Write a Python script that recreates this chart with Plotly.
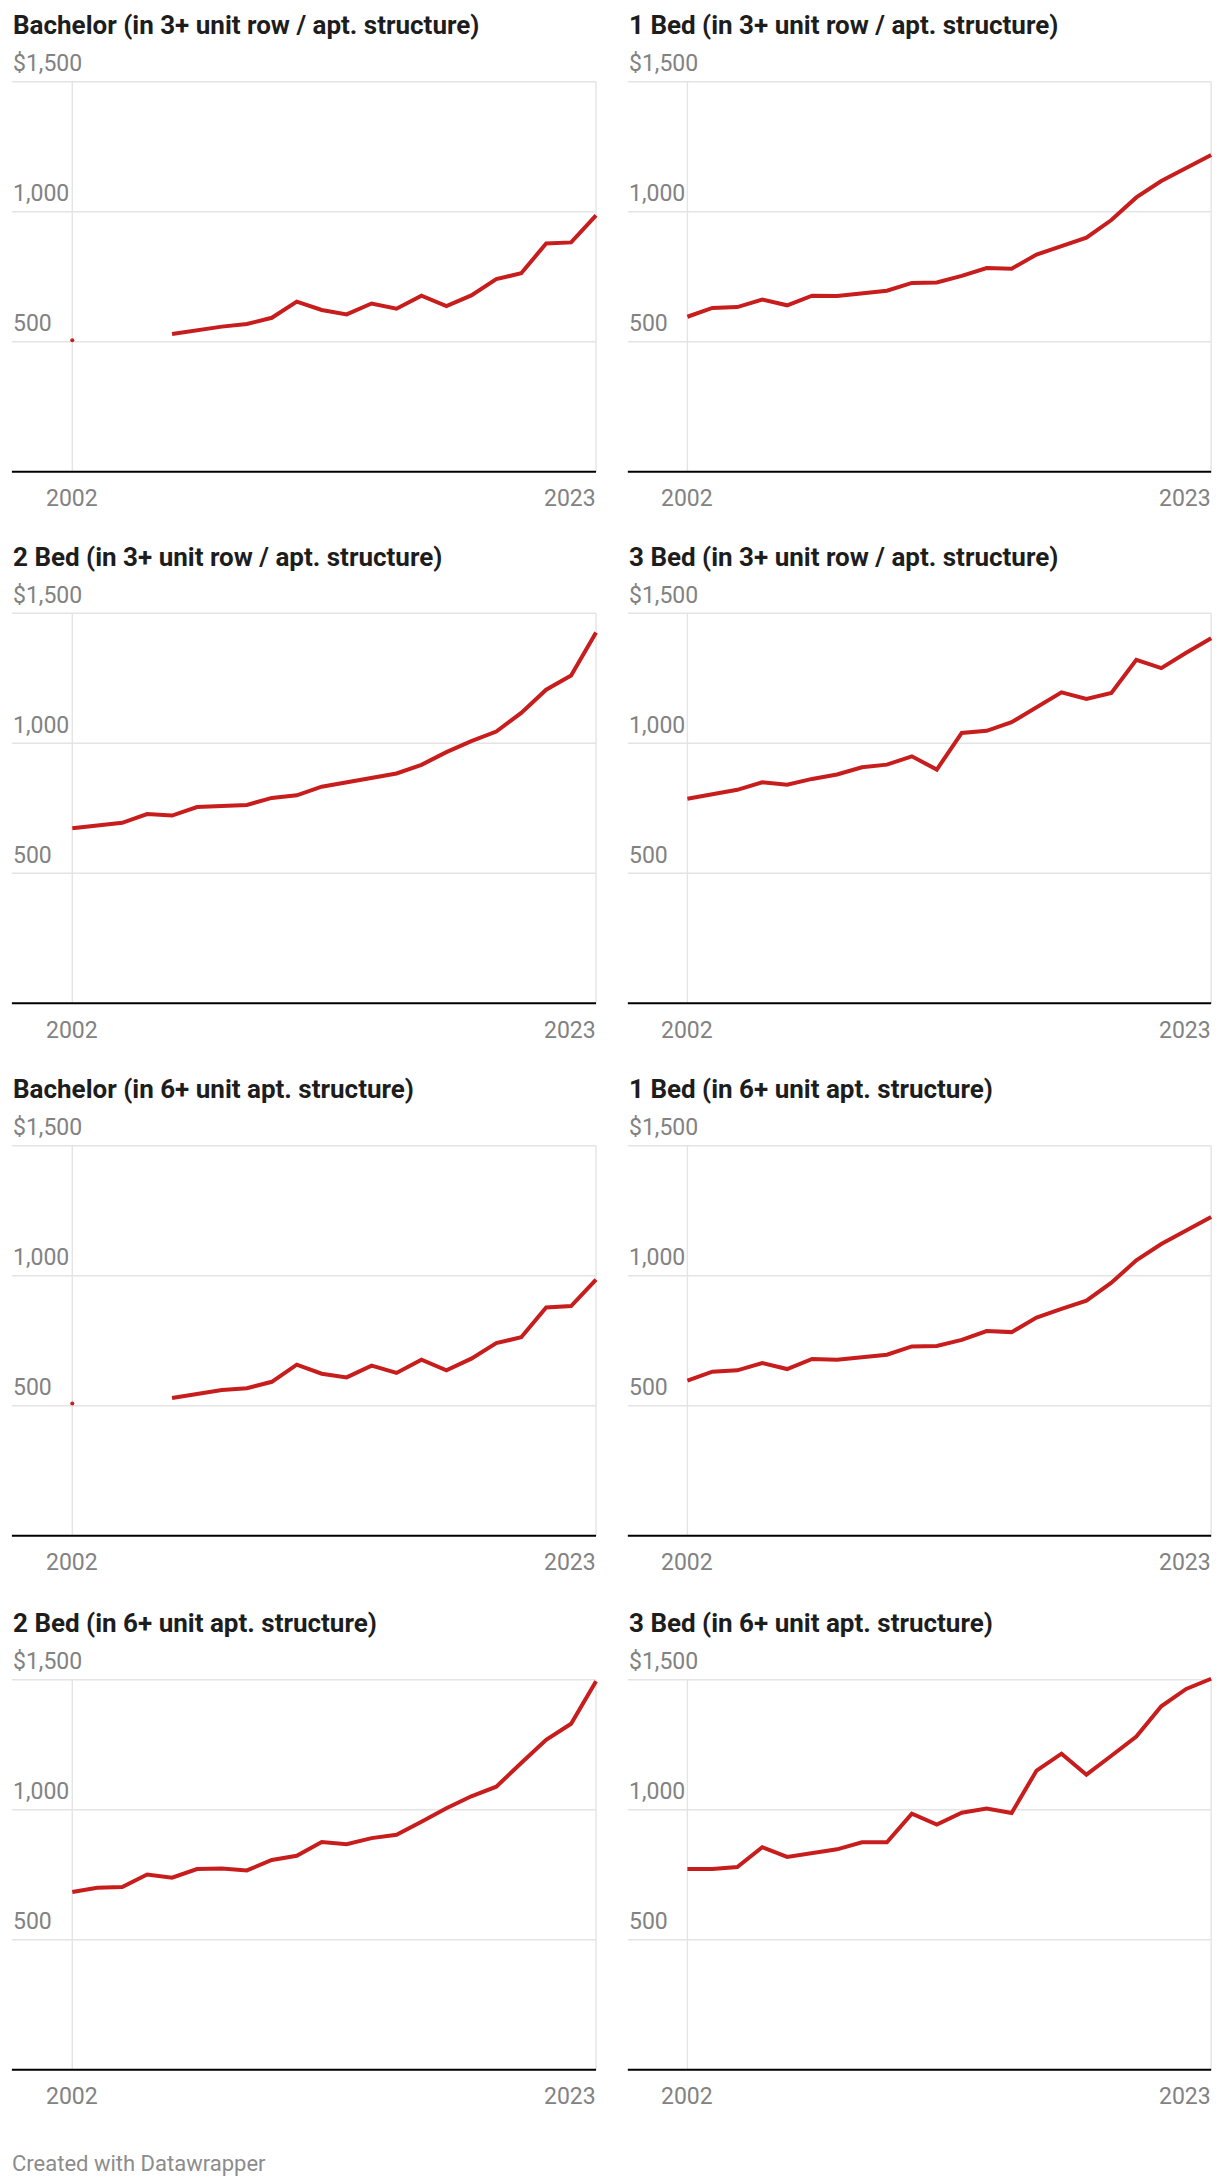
import plotly.graph_objects as go

# ---------------- data ----------------
years = list(range(2002, 2024))
N = None
titles = [
    "Bachelor (in 3+ unit row / apt. structure)",
    "1 Bed (in 3+ unit row / apt. structure)",
    "2 Bed (in 3+ unit row / apt. structure)",
    "3 Bed (in 3+ unit row / apt. structure)",
    "Bachelor (in 6+ unit apt. structure)",
    "1 Bed (in 6+ unit apt. structure)",
    "2 Bed (in 6+ unit apt. structure)",
    "3 Bed (in 6+ unit apt. structure)",
]
bachelor_3plus = [506, N, N, N, 530, 545, 558, 568, 592, 654, 622, 605, 647, 627, 677, 637, 678, 741, 763, 878, 882, 986]
one_bed_3plus = [596, 630, 633, 662, 640, 677, 676, 686, 696, 726, 728, 753, 783, 781, 835, 868, 900, 968, 1055, 1118, 1168, 1218]
two_bed_3plus = [673, 682, 694, 728, 722, 755, 759, 763, 790, 800, 833, 849, 867, 884, 917, 966, 1008, 1045, 1117, 1206, 1261, 1426]
three_bed_3plus = [787, 803, 821, 850, 841, 863, 880, 908, 918, 950, 899, 1040, 1048, 1081, 1137, 1196, 1171, 1194, 1321, 1289, 1348, 1404]
bachelor_6plus = [508, N, N, N, 530, 545, 560, 567, 592, 658, 623, 609, 654, 626, 677, 636, 681, 741, 763, 878, 883, 985]
one_bed_6plus = [596, 631, 636, 664, 641, 680, 677, 687, 696, 728, 730, 753, 787, 783, 839, 872, 904, 973, 1059, 1122, 1174, 1226]
two_bed_6plus = [684, 700, 703, 751, 739, 772, 774, 767, 807, 823, 876, 868, 891, 904, 954, 1006, 1052, 1089, 1180, 1269, 1331, 1494]
three_bed_6plus = [772, 772, 780, 856, 819, 835, 848, 875, 875, 985, 943, 989, 1005, 988, 1151, 1216, 1135, 1208, 1282, 1398, 1465, 1504]
series = [bachelor_3plus, one_bed_3plus, two_bed_3plus, three_bed_3plus,
          bachelor_6plus, one_bed_6plus, two_bed_6plus, three_bed_6plus]

y_ticks = [500, 1000, 1500]
y_tick_labels = ["500", "1,000", "$1,500"]
x_ticks = [2002, 2023]
x_tick_labels = ["2002", "2023"]
footer = "Created with Datawrapper"

# ---------------- layout geometry ----------------
W, H = 1220, 2184
PX_PER_YEAR = 24.94
PX_PER_UNIT = 0.26
col_left = [11.7, 627.6]
col_x2002 = [72.3, 687.4]
row_base = [471.7, 1003.3, 1535.7, 2069.8]
X_END = 2023.2
Y_MIN, Y_MAX = -10, 1530

RED = "#c71e1d"
GRID = "#e4e4e4"
LABEL = "#828282"
TITLE = "#1d1d1d"
FONT = "Roboto"

fig = go.Figure()
shapes = []
annotations = []
layout_axes = {}

for i, (title, vals) in enumerate(zip(titles, series)):
    r, c = divmod(i, 2)
    n = i + 1
    xname = "x" if n == 1 else f"x{n}"
    yname = "y" if n == 1 else f"y{n}"
    xkey = "xaxis" if n == 1 else f"xaxis{n}"
    ykey = "yaxis" if n == 1 else f"yaxis{n}"

    x_start = x_ticks[0] - (col_x2002[c] - col_left[c]) / PX_PER_YEAR
    x_right_px = col_x2002[c] + (X_END - x_ticks[0]) * PX_PER_YEAR
    y_bot_px = row_base[r] - Y_MIN * PX_PER_UNIT
    y_top_px = row_base[r] - Y_MAX * PX_PER_UNIT

    layout_axes[xkey] = dict(domain=[col_left[c] / W, x_right_px / W], range=[x_start, X_END],
                             visible=False, fixedrange=True, anchor=yname)
    layout_axes[ykey] = dict(domain=[1 - y_bot_px / H, 1 - y_top_px / H], range=[Y_MIN, Y_MAX],
                             visible=False, fixedrange=True, anchor=xname)

    # grid lines
    for v in y_ticks:
        shapes.append(dict(type="line", xref=xname, yref=yname, x0=x_start, x1=x_ticks[-1],
                           y0=v, y1=v, line=dict(color=GRID, width=1.4), layer="below"))
    for xv in x_ticks:
        shapes.append(dict(type="line", xref=xname, yref=yname, x0=xv, x1=xv,
                           y0=0, y1=y_ticks[-1], line=dict(color=GRID, width=1.4), layer="below"))
    shapes.append(dict(type="line", xref=xname, yref=yname, x0=x_start, x1=x_ticks[-1],
                       y0=0, y1=0, line=dict(color="#000000", width=2), layer="above"))

    # line trace
    fig.add_trace(go.Scatter(x=years, y=vals, mode="lines", xaxis=xname, yaxis=yname,
                             line=dict(color=RED, width=4), connectgaps=False,
                             hoverinfo="x+y", showlegend=False))
    # isolated points (no neighbours) drawn as dots
    iso_x, iso_y = [], []
    for k, v in enumerate(vals):
        if v is None:
            continue
        prev_ok = k > 0 and vals[k - 1] is not None
        next_ok = k < len(vals) - 1 and vals[k + 1] is not None
        if not prev_ok and not next_ok:
            iso_x.append(years[k]); iso_y.append(v)
    if iso_x:
        fig.add_trace(go.Scatter(x=iso_x, y=iso_y, mode="markers", xaxis=xname, yaxis=yname,
                                 marker=dict(color=RED, size=4), showlegend=False))

    # y labels above grid lines
    for v, t in zip(y_ticks, y_tick_labels):
        annotations.append(dict(xref=xname, yref=yname, x=x_start, y=v, text=t, showarrow=False,
                                xanchor="left", yanchor="middle", yshift=18, xshift=-1,
                                font=dict(family=FONT, size=23, color=LABEL)))
    # x labels
    for k, (xv, t) in enumerate(zip(x_ticks, x_tick_labels)):
        annotations.append(dict(xref=xname, yref=yname, x=xv, y=0, text=t, showarrow=False,
                                xanchor="center" if k == 0 else "right", yanchor="middle",
                                yshift=-27, xshift=0 if k == 0 else 2,
                                font=dict(family=FONT, size=23, color=LABEL)))
    # title
    title_y_px = row_base[r] - 446.5
    annotations.append(dict(xref="paper", yref="paper", x=(col_left[c] - 0.5) / W, y=1 - title_y_px / H,
                            text=title, showarrow=False, xanchor="left", yanchor="middle",
                            font=dict(family=FONT, size=26, color=TITLE, weight=700)))

annotations.append(dict(xref="paper", yref="paper", x=10 / W, y=1 - 2163 / H, text=footer,
                        showarrow=False, xanchor="left", yanchor="middle",
                        font=dict(family=FONT, size=22, color="#8c8c8c")))

fig.update_layout(width=W, height=H, margin=dict(l=0, r=0, t=0, b=0),
                  paper_bgcolor="white", plot_bgcolor="white",
                  shapes=shapes, annotations=annotations, showlegend=False, **layout_axes)

fig.write_html("out.html")
